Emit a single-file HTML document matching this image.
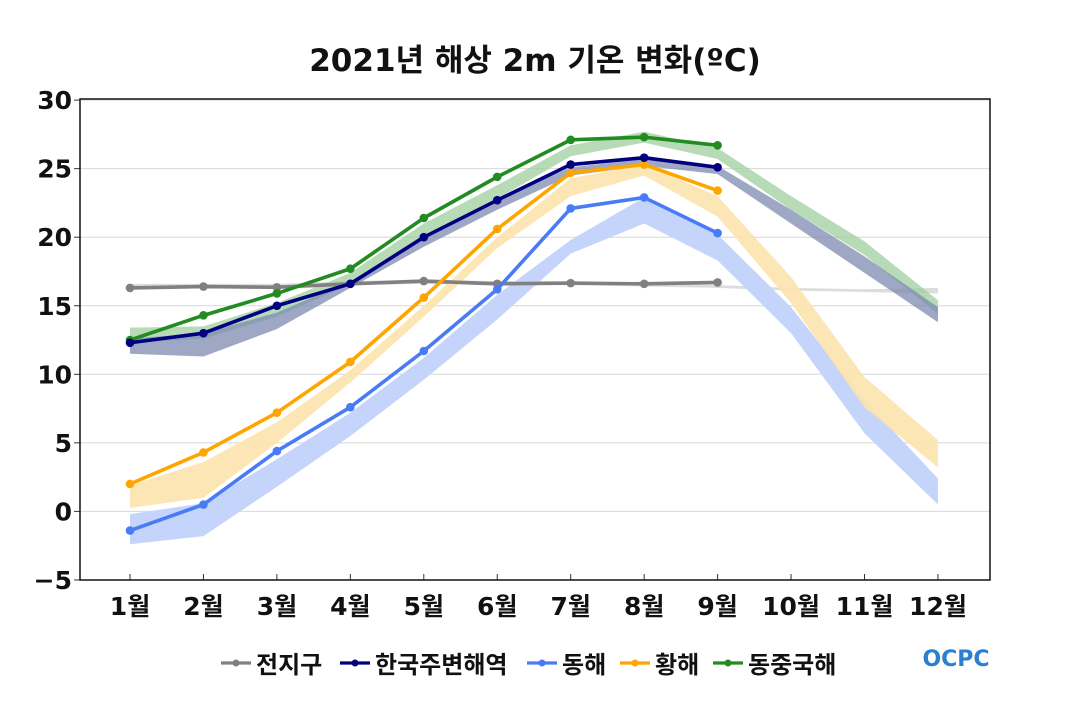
<!DOCTYPE html>
<html><head><meta charset="utf-8"><style>
body{margin:0;background:#fff;}
svg text{font-family:"DejaVu Sans","Noto Sans CJK KR","NanumGothic",sans-serif;font-weight:bold;fill:#111;}
</style></head><body>
<svg id="s" width="1070" height="700" xmlns="http://www.w3.org/2000/svg"></svg>
<script>
const s=document.getElementById('s');
const X=i=>130+73.45*i, Y=v=>511.4-13.71*v;
let h='';
h+='<text x="535" y="71" font-size="31" text-anchor="middle">2021년 해상 2m 기온 변화(ºC)</text>';
for(let v=-5;v<=30;v+=5){h+=`<line x1="80" x2="990" y1="${Y(v)}" y2="${Y(v)}" stroke="#d8d8d8" stroke-width="1"/>`;
h+=`<line x1="74" x2="80" y1="${Y(v)}" y2="${Y(v)}" stroke="#333"/>`;
h+=`<text x="72" y="${Y(v)+9}" font-size="25" text-anchor="end">${v<0?'−5':v}</text>`;}
for(let i=0;i<12;i++){h+=`<line x1="${X(i)}" x2="${X(i)}" y1="574" y2="580" stroke="#333"/>`;
h+=`<text x="${X(i)}" y="615" font-size="25" text-anchor="middle">${i+1}월</text>`;}
function band(lo,hi,c,o){let p=lo.map((v,i)=>X(i)+','+Y(v)).join(' ')+' '+hi.map((v,i)=>X(i)+','+Y(v)).reverse().join(' ');
h+=`<polygon points="${p}" fill="${c}" fill-opacity="${o}"/>`;}
band([16.3,16.3,16.3,16.5,16.6,16.5,16.5,16.4,16.3,16.1,16.0,15.9],[16.6,16.6,16.6,16.8,16.9,16.8,16.8,16.7,16.5,16.3,16.2,16.3],'#dcdcdc',1);
band([-2.4,-1.8,1.8,5.5,9.6,14.0,18.8,21.0,18.3,13.0,5.7,0.5],[-0.2,0.6,3.8,7.2,11.2,15.8,19.8,22.9,20.2,14.9,8.1,2.4],'#c5d4fb',1);
band([0.25,1.0,5.0,9.4,14.2,19.2,23.0,24.5,21.5,15.2,7.6,3.2],[1.9,3.6,6.5,10.3,15.0,20.0,24.3,25.3,23.0,17.1,9.8,5.2],'#fde3ad',0.9);
band([12.3,12.6,14.2,16.6,20.0,22.8,25.9,26.9,25.7,22.0,18.7,14.4],[13.4,13.5,15.2,17.4,21.0,23.8,26.7,27.7,26.5,23.0,19.7,15.4],'#9fcf9f',0.75);
band([11.5,11.3,13.3,16.3,19.3,22.0,24.5,25.2,24.6,21.0,17.4,13.8],[12.6,13.0,14.5,16.8,20.0,22.7,25.1,25.7,25.2,22.0,18.6,14.9],'#7e8bb0',0.75);
function line(d,c){let p=d.map((v,i)=>X(i)+','+Y(v)).join(' ');
h+=`<polyline points="${p}" fill="none" stroke="${c}" stroke-width="3.6" stroke-linejoin="round"/>`;
d.forEach((v,i)=>h+=`<circle cx="${X(i)}" cy="${Y(v)}" r="4.3" fill="${c}"/>`);}
line([16.3,16.4,16.35,16.6,16.8,16.6,16.65,16.6,16.7],'#808080');
line([-1.4,0.5,4.4,7.6,11.7,16.2,22.1,22.9,20.3],'#4a7bf7');
line([2.0,4.3,7.2,10.9,15.6,20.6,24.7,25.3,23.4],'#ffa500');
line([12.5,14.3,15.9,17.7,21.4,24.4,27.1,27.3,26.7],'#228b22');
line([12.3,13.0,15.0,16.6,20.0,22.7,25.3,25.8,25.1],'#000080');
h+='<rect x="80" y="99" width="910" height="481" fill="none" stroke="#111" stroke-width="1.5"/>';
const leg=[['전지구','#808080',221],['한국주변해역','#000080',340],['동해','#4a7bf7',527],['황해','#ffa500',620],['동중국해','#228b22',713]];
leg.forEach(([t,c,x])=>{h+=`<line x1="${x}" x2="${x+30}" y1="663" y2="663" stroke="${c}" stroke-width="3.2"/><circle cx="${x+15}" cy="663" r="3.5" fill="${c}"/>`;
h+=`<text x="${x+35}" y="673" font-size="24">${t}</text>`;});
h+='<text x="956" y="666" font-size="22" text-anchor="middle" style="fill:#2a7fd0">OCPC</text>';
s.innerHTML=h;
</script>
</body></html>
